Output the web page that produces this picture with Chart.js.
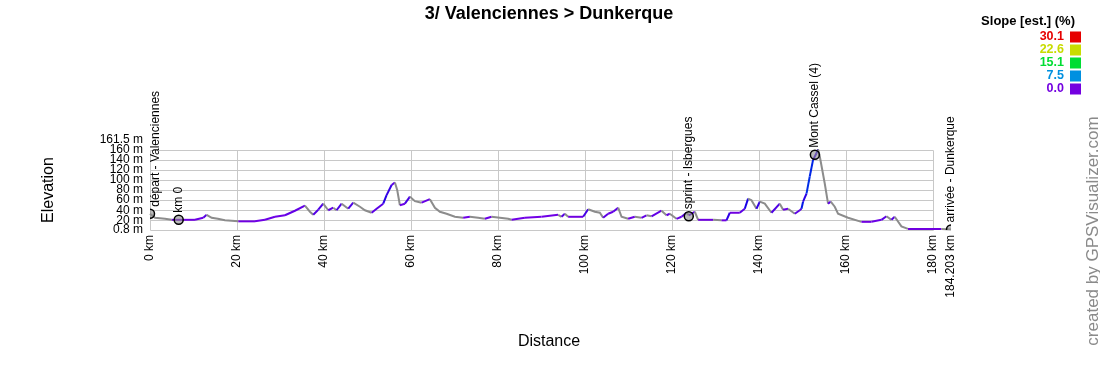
<!DOCTYPE html>
<html>
<head>
<meta charset="utf-8">
<script src="https://cdn.jsdelivr.net/npm/chart.js@4"></script>
<style>
  html, body { margin: 0; padding: 0; background: #fff; }
  #wrap { width: 1100px; height: 380px; position: relative; }
</style>
</head>
<body>
<div id="wrap"><canvas id="c" width="1100" height="380"></canvas></div>
<script>
// ---- data ----
const distancesKm = [0, 1.15, 3.45, 4.99, 6.5, 10.34, 12.25, 13.03, 14.18, 15.6, 17.24, 20.3, 24.14, 26.44, 28.74, 31.03, 33.33, 35.63, 36.78, 37.54,
  38.69, 39.84, 40.99, 42.14, 42.9, 44.07, 45.59, 46.74, 48.28, 49.43, 50.97, 52.11, 53.63, 54.41, 55.56, 56.32, 56.85, 57.47, 58.62, 59.77,
  60.92, 62.46, 64.37, 65.52, 66.67, 68.2, 70.11, 72.02, 73.56, 75.47, 77.01, 78.55, 82.37, 83.15, 86.21, 90.05, 93.86, 94.64, 95.4, 96.16,
  99.61, 100.76, 102.3, 103.45, 104.21, 105.36, 106.51, 107.66, 108.44, 109.95, 111.49, 113.03, 114.18, 115.33, 117.63, 118.78, 119.54, 121.08, 122.23, 123.38,
  123.9, 125.29, 126.05, 129.5, 131.43, 132.57, 133.33, 135.63, 136.78, 137.54, 138.32, 139.47, 140.23, 141.38, 142.92, 144.83, 145.59, 146.74, 148.28, 149.43,
  149.82, 150.18, 150.97, 151.72, 152.48, 153.26, 153.63, 154.02, 155.17, 155.93, 156.55, 157.47, 158.23, 160.53, 163.61, 165.91, 168.21, 169.36, 170.51, 171.26,
  172.8, 174.32, 178.92, 181.99, 184.203];
const elevationsM = [33, 25, 23, 21, 21, 21, 25, 31, 25, 23, 20, 18, 18, 21, 27, 30, 39, 49, 37, 31,
  41, 53, 40, 45, 40, 53, 43, 55, 47, 40, 35, 43, 53, 70, 90, 95, 80, 50, 53, 67,
  58, 55, 62, 45, 37, 33, 27, 25, 27, 25, 23, 27, 23, 21, 25, 27, 31, 27, 33, 27,
  27, 42, 37, 35, 25, 33, 37, 45, 27, 23, 27, 25, 30, 28, 39, 30, 33, 23, 27, 35,
  30, 37, 21, 21, 20, 20, 35, 35, 43, 63, 60, 43, 57, 53, 35, 53, 41, 43, 33, 40,
  43, 57, 73, 107, 140, 153, 161, 147, 93, 53, 57, 47, 33, 25, 17, 17, 21, 28, 21, 27,
  8, 3, 3, 3, 2];

const waypointNames = ['départ - Valenciennes', 'km 0', 'sprint - Isbergues', 'Mont Cassel (4)', 'arrivée - Dunkerque'];
const waypointKm = [0, 6.6, 123.9, 152.9, 184.203];
const waypointElev = [33, 21, 28, 150, 2];

const yTickValues = [0.8, 20, 40, 60, 80, 100, 120, 140, 160, 161.5];
const xTickValues = [0, 20, 40, 60, 80, 100, 120, 140, 160, 180, 184.203];

const slopeLegendValues = ['30.1', '22.6', '15.1', '7.5', '0.0'];
const slopeLegendColors = ['#e60000', '#c8dc00', '#00dd33', '#0090e0', '#7300e0'];

const titleText = '3/ Valenciennes > Dunkerque';
const xTitle = 'Distance';
const yTitle = 'Elevation';
const legendTitle = 'Slope [est.] (%)';
const creditText = 'created by GPSVisualizer.com';

// ---- helpers ----
const FONT = '"Liberation Sans", Arial, Helvetica, sans-serif';
const hueStops = [[0, 270], [7.5, 201], [15.1, 137], [22.6, 65], [30.1, 0]];
function slopeColor(s) {
  if (s <= 0) return 'hsl(270,100%,44%)';
  for (let i = 1; i < hueStops.length; i++) {
    if (s <= hueStops[i][0]) {
      const t = (s - hueStops[i-1][0]) / (hueStops[i][0] - hueStops[i-1][0]);
      const h = hueStops[i-1][1] + t * (hueStops[i][1] - hueStops[i-1][1]);
      return 'hsl(' + h.toFixed(0) + ',100%,45%)';
    }
  }
  return 'hsl(0,100%,45%)';
}

const profile = distancesKm.map((d, i) => ({ x: d, y: elevationsM[i] }));
const waypoints = waypointKm.map((d, i) => ({ x: d, y: waypointElev[i] }));

const gridPlugin = {
  id: 'customGrid',
  beforeDatasetsDraw(chart) {
    const { ctx, scales: { x, y } } = chart;
    ctx.save();
    ctx.strokeStyle = '#c8c8c8';
    ctx.lineWidth = 1;
    const xl = Math.round(x.getPixelForValue(0)) + 0.5;
    const xr = Math.round(x.getPixelForValue(180)) + 0.5;
    const yt = Math.round(y.getPixelForValue(160)) + 0.5;
    const yb = Math.round(y.getPixelForValue(0.8)) + 0.5;
    yTickValues.filter(v => v !== 161.5).forEach(v => {
      const py = Math.round(y.getPixelForValue(v)) + 0.5;
      ctx.beginPath(); ctx.moveTo(xl, py); ctx.lineTo(xr, py); ctx.stroke();
    });
    xTickValues.filter(v => v !== 184.203).forEach(v => {
      const px = Math.round(x.getPixelForValue(v)) + 0.5;
      ctx.beginPath(); ctx.moveTo(px, yt); ctx.lineTo(px, yb); ctx.stroke();
    });
    ctx.restore();
  }
};

const textPlugin = {
  id: 'texts',
  afterDraw(chart) {
    const { ctx, chartArea, scales: { x, y } } = chart;
    ctx.save();
    ctx.fillStyle = '#000';
    // title
    ctx.font = 'bold 18px ' + FONT;
    ctx.textAlign = 'center'; ctx.textBaseline = 'middle';
    ctx.fillText(titleText, 549, 14);
    // axis titles
    ctx.font = '16px ' + FONT;
    ctx.fillText(xTitle, 549, 342);
    ctx.save();
    ctx.translate(49, 190); ctx.rotate(-Math.PI / 2);
    ctx.fillText(yTitle, 0, 0);
    ctx.restore();
    // legend
    ctx.font = 'bold 13px ' + FONT;
    ctx.textAlign = 'right';
    ctx.fillText(legendTitle, 1075, 21);
    ctx.font = 'bold 12.5px ' + FONT;
    slopeLegendValues.forEach((v, i) => {
      const cy = 36.5 + i * 13;
      ctx.fillStyle = slopeLegendColors[i];
      ctx.fillText(v, 1064, cy);
      ctx.fillRect(1070, cy - 5, 11, 11);
    });
    // credit
    ctx.fillStyle = '#8a8a8a';
    ctx.font = '17px ' + FONT;
    ctx.textAlign = 'center';
    ctx.save();
    ctx.translate(1093, 231); ctx.rotate(-Math.PI / 2);
    ctx.fillText(creditText, 0, 0);
    ctx.restore();
    // waypoint labels
    ctx.fillStyle = '#000';
    ctx.font = '12px ' + FONT;
    ctx.textAlign = 'left'; ctx.textBaseline = 'middle';
    waypoints.forEach((p, i) => {
      let px = x.getPixelForValue(p.x);
      const py = y.getPixelForValue(p.y);
      if (px < chartArea.left + 6) px = chartArea.left + 6;
      ctx.save();
      ctx.translate(px, py - 7); ctx.rotate(-Math.PI / 2);
      ctx.fillText(waypointNames[i], 0, 0);
      ctx.restore();
    });
    ctx.restore();
  }
};

Chart.defaults.font.family = FONT;
Chart.defaults.color = '#000';

new Chart(document.getElementById('c'), {
  type: 'line',
  data: {
    datasets: [
      {
        label: 'Waypoints',
        data: waypoints,
        showLine: false,
        pointRadius: 4.5,
        pointBorderWidth: 1.5,
        pointBorderColor: '#000',
        pointBackgroundColor: 'rgba(140,140,140,0.6)',
        order: 0
      },
      {
        label: 'Elevation',
        data: profile,
        borderWidth: 2,
        pointRadius: 0,
        tension: 0,
        fill: false,
        clip: false,
        borderColor: '#7300e0',
        segment: {
          borderColor: c => {
            const dx = (c.p1.parsed.x - c.p0.parsed.x) * 1000;
            const dy = c.p1.parsed.y - c.p0.parsed.y;
            if (dy < 0) return '#8c8c8c';
            return slopeColor(dx > 0 ? dy / dx * 100 : 0);
          }
        },
        order: 1
      }
    ]
  },
  options: {
    responsive: false,
    animation: false,
    events: [],
    layout: { padding: { top: 149, right: 149, left: 0, bottom: 0 } },
    plugins: { legend: { display: false }, tooltip: { enabled: false }, title: { display: false } },
    scales: {
      x: {
        type: 'linear',
        min: 0, max: 184.203,
        grid: { display: false, drawTicks: false },
        border: { display: false },
        afterBuildTicks: s => { s.ticks = xTickValues.map(v => ({ value: v })); },
        afterFit: s => { s.height = 150; },
        ticks: {
          autoSkip: false, minRotation: 90, maxRotation: 90, padding: 5,
          font: { size: 12 }, color: '#000',
          callback: v => v + ' km'
        }
      },
      y: {
        type: 'linear',
        min: 0.8, max: 161.5,
        grid: { display: false, drawTicks: false },
        border: { display: false },
        afterBuildTicks: s => { s.ticks = yTickValues.map(v => ({ value: v })); },
        afterFit: s => { s.width = 150; },
        ticks: {
          autoSkip: false, padding: 7, color: '#000',
          font: c => (c.tick && c.tick.value === 161.5) ? { size: 12, lineHeight: 1.6 } : { size: 12 },
          callback: v => v === 161.5 ? [v + ' m', ''] : v + ' m'
        }
      }
    }
  },
  plugins: [gridPlugin, textPlugin]
});
</script>
</body>
</html>
